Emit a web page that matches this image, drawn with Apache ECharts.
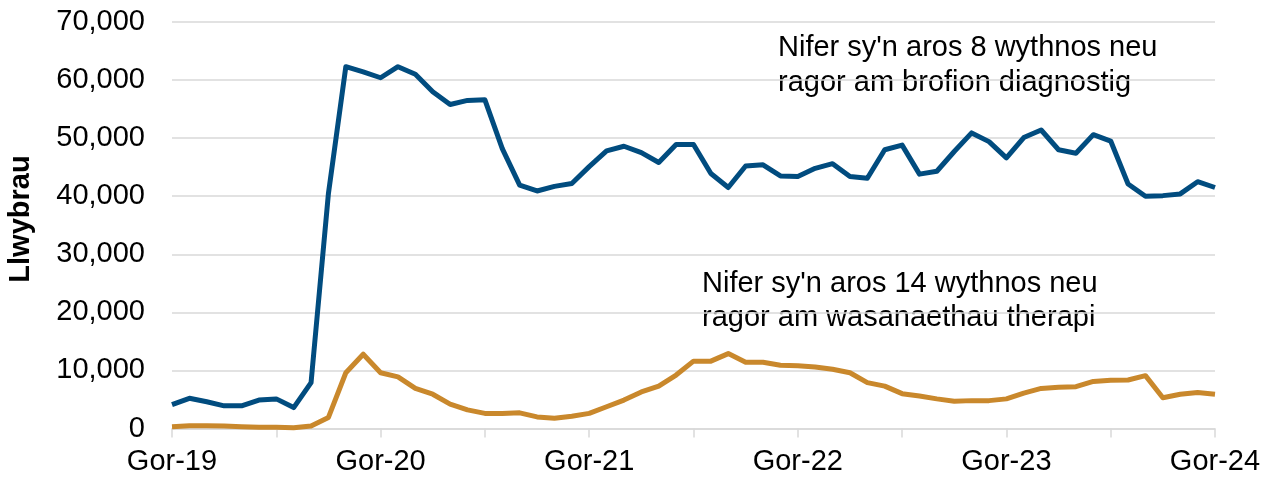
<!DOCTYPE html>
<html>
<head>
<meta charset="utf-8">
<script src="https://cdn.jsdelivr.net/npm/echarts@6/dist/echarts.min.js"></script>
<style>
html,body{margin:0;padding:0;background:#fff;}
#c{width:1273px;height:481px;}
</style>
</head>
<body>
<div id="c"></div>
<script>
var categories = [
 'Gor-19','Aws-19','Med-19','Hyd-19','Tach-19','Rhag-19','Ion-20','Chw-20','Maw-20','Ebr-20','Mai-20','Meh-20',
 'Gor-20','Aws-20','Med-20','Hyd-20','Tach-20','Rhag-20','Ion-21','Chw-21','Maw-21','Ebr-21','Mai-21','Meh-21',
 'Gor-21','Aws-21','Med-21','Hyd-21','Tach-21','Rhag-21','Ion-22','Chw-22','Maw-22','Ebr-22','Mai-22','Meh-22',
 'Gor-22','Aws-22','Med-22','Hyd-22','Tach-22','Rhag-22','Ion-23','Chw-23','Maw-23','Ebr-23','Mai-23','Meh-23',
 'Gor-23','Aws-23','Med-23','Hyd-23','Tach-23','Rhag-23','Ion-24','Chw-24','Maw-24','Ebr-24','Mai-24','Meh-24',
 'Gor-24'
];
var diagnostig8wk = [
 4100,5200,4600,3900,3900,4900,5100,3600,7900,40500,62300,61400,
 60400,62300,61000,58000,55800,56500,56600,48200,41900,40900,41700,42200,
 45100,47800,48600,47500,45800,48900,48900,43900,41500,45200,45400,43500,
 43400,44800,45600,43400,43100,48000,48800,43800,44300,47700,50900,49400,
 46600,50100,51400,48000,47400,50600,49500,42100,40000,40100,40400,42500,
 41500
];
var therapi14wk = [
 300,480,480,430,310,200,200,140,430,1900,9600,12800,
 9600,8900,6900,5900,4200,3200,2600,2600,2700,2000,1750,2100,
 2600,3750,4900,6300,7300,9200,11600,11600,12900,11400,11400,10900,
 10800,10600,10200,9600,7900,7300,6000,5600,5100,4700,4800,4800,
 5100,6100,6900,7100,7200,8100,8300,8350,9100,5300,5900,6200,
 5900
];
var yTicks = [0,10000,20000,30000,40000,50000,60000,70000];
var yTitle = 'Llwybrau';
var label1 = "Nifer sy'n aros 8 wythnos neu\nragor am brofion diagnostig";
var label2 = "Nifer sy'n aros 14 wythnos neu\nragor am wasanaethau therapi";

var FONT = '"Liberation Sans", Arial, sans-serif';
var chart = echarts.init(document.getElementById('c'), null, {renderer:'canvas'});
chart.setOption({
  animation:false,
  backgroundColor:'#ffffff',
  grid:{left:172,right:58,top:22,bottom:52.5,containLabel:false},
  xAxis:{
    type:'category',
    data:categories,
    boundaryGap:false,
    axisLine:{lineStyle:{color:'#d9d9d9',width:1.5}},
    axisTick:{show:true,interval:5,length:9,lineStyle:{color:'#d9d9d9',width:1.5}},
    axisLabel:{interval:11,color:'#000',fontFamily:FONT,fontSize:29,margin:19},
    splitLine:{show:false}
  },
  yAxis:{
    type:'value',
    min:yTicks[0],
    max:yTicks[yTicks.length-1],
    interval:10000,
    axisLine:{show:false},
    axisTick:{show:false},
    axisLabel:{color:'#000',fontFamily:FONT,fontSize:29,margin:27,
      formatter:function(v){return v.toLocaleString('en-US');}},
    splitLine:{lineStyle:{color:'#d9d9d9',width:1.5}}
  },
  graphic:[
    {type:'text',x:21,y:219,rotation:Math.PI/2,
      style:{text:yTitle,font:'bold 29px '+FONT,fill:'#000',textAlign:'center',textVerticalAlign:'middle'}},
    {type:'text',x:778,y:30.8,
      style:{text:label1,font:'29px '+FONT,fill:'#000',lineHeight:34.5}},
    {type:'text',x:702,y:266.5,
      style:{text:label2,font:'29px '+FONT,fill:'#000',lineHeight:34.5}}
  ],
  series:[
    {name:label1,type:'line',data:diagnostig8wk,showSymbol:false,symbol:'none',
      lineStyle:{color:'#014C7F',width:5,join:'round'},itemStyle:{color:'#014C7F'}},
    {name:label2,type:'line',data:therapi14wk,showSymbol:false,symbol:'none',
      lineStyle:{color:'#C9882C',width:5,join:'round'},itemStyle:{color:'#C9882C'}}
  ]
});
</script>
</body>
</html>
